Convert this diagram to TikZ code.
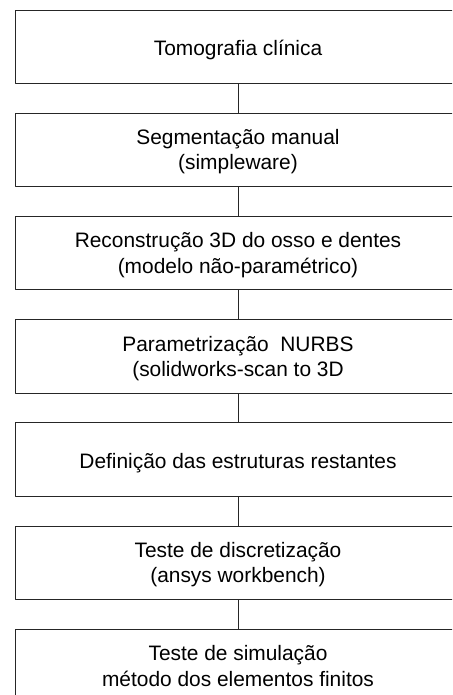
\documentclass[tikz,border=0pt]{standalone}
\usepackage{fontspec}
\setmainfont{Liberation Sans}
\usetikzlibrary{positioning}
\begin{document}
\begin{tikzpicture}[line join=round,
		etapa/.style={draw=black!85, line width=0.5pt, minimum width=223pt, minimum height=36.75pt,
			inner sep=0pt, outer sep=0pt, align=center, font=\fontsize{10.45}{12.6}\selectfont,
			text height=11pt, text depth=2.5pt},
		duas/.style={etapa, text height=23.6pt, text depth=3.6pt},
		node distance=14.85pt]
			\clip (0,0) rectangle (226pt,-347.5pt);
			\useasboundingbox (0,0) rectangle (226pt,-347.5pt);
			\node[etapa] (tomo) at (119pt,-23.4pt) {Tomografia clínica};
			\node[duas, below=of tomo] (segm) {Segmentação manual\\(simpleware)};
			\node[duas, below=of segm] (recon) {Reconstrução 3D do osso e dentes\\(modelo não-paramétrico)};
			\node[duas, below=of recon] (param) {Parametrização\ \ NURBS\\(solidworks-scan to 3D};
			\node[etapa, below=of param] (defin) {Definição das estruturas restantes};
			\node[duas, below=of defin] (discr) {Teste de discretização\\(ansys workbench)};
			\node[duas, below=of discr] (simul) {Teste de simulação\\método dos elementos finitos};
			\foreach \a/\b in {tomo/segm, segm/recon, recon/param, param/defin, defin/discr, discr/simul}
				\draw[black!85, line width=0.5pt] (\a) -- (\b);
	\end{tikzpicture}
\end{document}
